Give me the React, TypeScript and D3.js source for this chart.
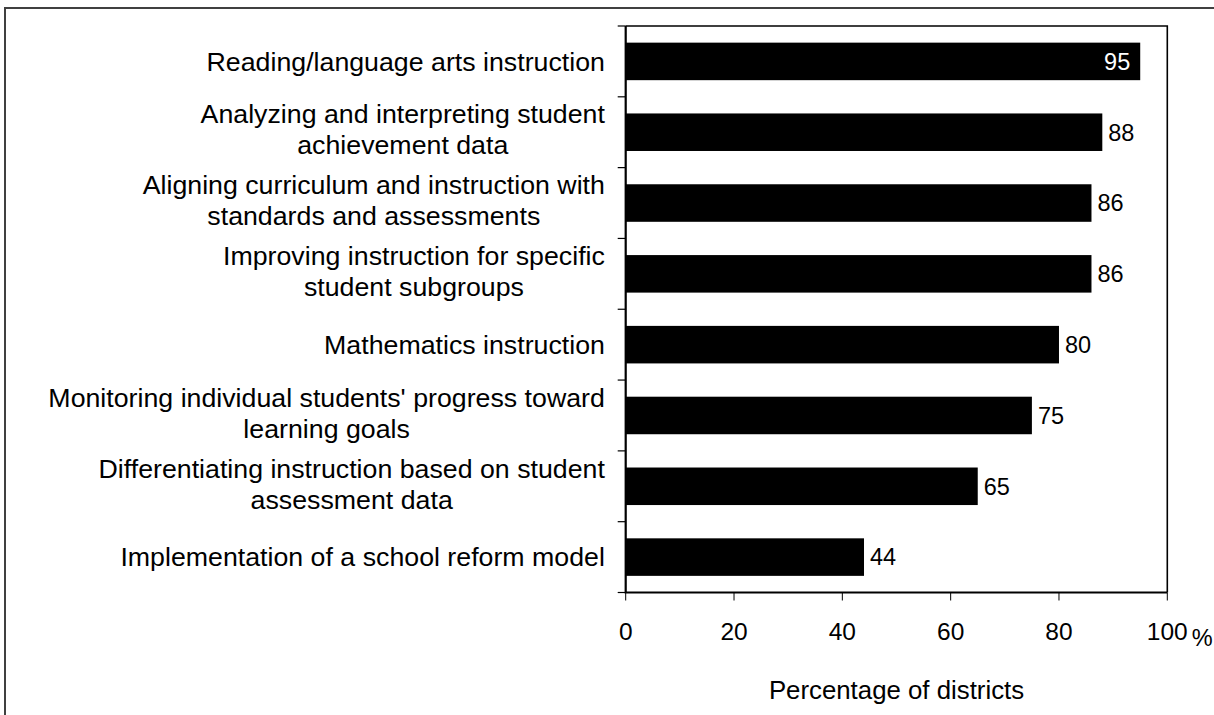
import React, { useEffect, useRef } from "react";
import * as d3 from "d3";

const categories: string[][] = [
  ["Reading/language arts instruction"],
  ["Analyzing and interpreting student", "achievement data"],
  ["Aligning curriculum and instruction with", "standards and assessments"],
  ["Improving instruction for specific", "student subgroups"],
  ["Mathematics instruction"],
  ["Monitoring individual students' progress toward", "learning goals"],
  ["Differentiating instruction based on student", "assessment data"],
  ["Implementation of a school reform model"],
];
const values: number[] = [95, 88, 86, 86, 80, 75, 65, 44];
const xTicks: number[] = [0, 20, 40, 60, 80, 100];
const xTitle = "Percentage of districts";

const W = 1214;
const H = 715;
const FONT = "'Liberation Sans', Arial, Helvetica, sans-serif";

export default function App() {
  const ref = useRef<SVGSVGElement | null>(null);

  useEffect(() => {
    const svg = d3.select(ref.current);
    svg.selectAll("*").remove();

    const left = 625.7;
    const right = 1167.3;
    const top = 26;
    const bottom = 592.5;

    const x = d3.scaleLinear().domain([0, 100]).range([left, right]);
    const ids = categories.map((_, i) => String(i));
    const y = d3
      .scaleBand<string>()
      .domain(ids)
      .range([top, bottom])
      .paddingInner(0.47)
      .paddingOuter(0.235);

    // outer frame
    svg
      .append("rect")
      .attr("x", 5)
      .attr("y", 8)
      .attr("width", W + 20)
      .attr("height", H + 20)
      .attr("fill", "none")
      .attr("stroke", "#404040")
      .attr("stroke-width", 2);

    // plot frame (top & right)
    svg
      .append("path")
      .attr("d", `M${left},${top}H${right}V${bottom}`)
      .attr("fill", "none")
      .attr("stroke", "#000")
      .attr("stroke-width", 1.6);

    // bars
    svg
      .append("g")
      .selectAll("rect")
      .data(values)
      .join("rect")
      .attr("x", x(0))
      .attr("y", (_, i) => y(String(i))!)
      .attr("width", (d) => x(d) - x(0))
      .attr("height", y.bandwidth())
      .attr("fill", "#000");

    // value labels
    svg
      .append("g")
      .selectAll("text")
      .data(values)
      .join("text")
      .attr("x", (d) => (d >= 90 ? x(d) - 10 : x(d) + 6))
      .attr("y", (_, i) => y(String(i))! + y.bandwidth() / 2 + 8.3)
      .attr("text-anchor", (d) => (d >= 90 ? "end" : "start"))
      .attr("fill", (d) => (d >= 90 ? "#fff" : "#000"))
      .attr("font-family", FONT)
      .attr("font-size", 23.5)
      .text((d) => String(d));

    // y axis ticks at band boundaries
    const step = y.step();
    const yTickPos = d3.range(categories.length + 1).map((i) => top + i * step);
    svg
      .append("g")
      .selectAll("line")
      .data(yTickPos)
      .join("line")
      .attr("x1", left - 8)
      .attr("x2", left)
      .attr("y1", (d) => d)
      .attr("y2", (d) => d)
      .attr("stroke", "#000")
      .attr("stroke-width", 1.2);

    // x ticks
    svg
      .append("g")
      .selectAll("line")
      .data(xTicks)
      .join("line")
      .attr("x1", (d) => x(d))
      .attr("x2", (d) => x(d))
      .attr("y1", bottom)
      .attr("y2", bottom + 8)
      .attr("stroke", "#000")
      .attr("stroke-width", 1);

    // axes lines
    svg
      .append("path")
      .attr("d", `M${left},${top}V${bottom}H${right}`)
      .attr("fill", "none")
      .attr("stroke", "#000")
      .attr("stroke-width", 2.2);

    // x tick labels
    svg
      .append("g")
      .selectAll("text")
      .data(xTicks)
      .join("text")
      .attr("x", (d) => x(d))
      .attr("y", 640)
      .attr("text-anchor", "middle")
      .attr("font-family", FONT)
      .attr("font-size", 24.5)
      .attr("fill", "#000")
      .text((d) => String(d));

    svg
      .append("text")
      .attr("x", x(100) + 24.5)
      .attr("y", 646)
      .attr("font-family", FONT)
      .attr("font-size", 23.5)
      .attr("fill", "#000")
      .text("%");

    // x title
    svg
      .append("text")
      .attr("x", (left + right) / 2)
      .attr("y", 699)
      .attr("text-anchor", "middle")
      .attr("font-family", FONT)
      .attr("font-size", 25.8)
      .attr("fill", "#000")
      .text(xTitle);

    // category labels
    const labelRight = 605;
    const fs = 25.8;
    const sx = 1.037;
    const lineH = 31;
    const lg = svg.append("g");
    categories.forEach((lines, i) => {
      const cy = y(String(i))! + y.bandwidth() / 2;
      const widths = lines.map((ln) => {
        const t = lg
          .append("text")
          .attr("font-family", FONT)
          .attr("font-size", fs)
          .text(ln);
        const w = (t.node() as SVGTextElement).getComputedTextLength() * sx;
        t.remove();
        return w;
      });
      const maxW = d3.max(widths) || 0;
      const cx = labelRight - maxW / 2;
      const n = lines.length;
      const base0 = cy + 0.358 * fs - ((n - 1) * lineH) / 2 - (n > 1 ? 2.5 : 0);
      lines.forEach((ln, j) => {
        lg.append("text")
          .attr("transform", `translate(${cx},${base0 + j * lineH}) scale(${sx},1)`)
          .attr("text-anchor", "middle")
          .attr("font-family", FONT)
          .attr("font-size", fs)
          .attr("fill", "#000")
          .text(ln);
      });
    });
  }, []);

  return (
    <svg
      ref={ref}
      width={W}
      height={H}
      style={{ position: "fixed", left: 0, top: 0, background: "#fff" }}
    />
  );
}
